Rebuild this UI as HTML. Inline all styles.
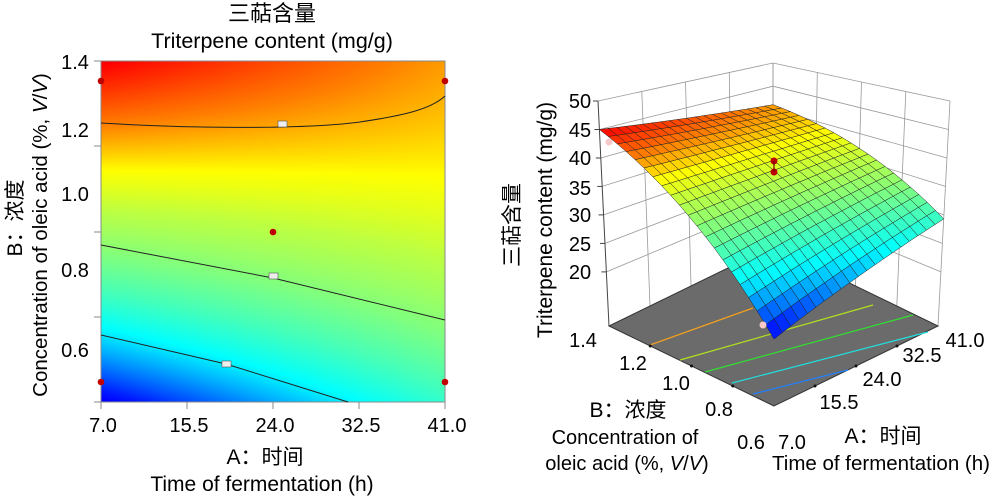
<!DOCTYPE html>
<html><head><meta charset="utf-8"><style>
html,body{margin:0;padding:0;background:#fff;}
#wrap{position:relative;width:1000px;height:497px;overflow:hidden;font-family:"Liberation Sans","Noto Sans CJK SC",sans-serif;}
canvas{position:absolute;left:101px;top:61px;}
svg{position:absolute;left:0;top:0;}
</style></head><body><div id="wrap">
<canvas id="cv" width="344" height="341"></canvas>
<svg id="sv" width="1000" height="497" xmlns="http://www.w3.org/2000/svg" font-family="Liberation Sans, Noto Sans CJK SC, sans-serif"></svg>
</div>
<script>
function clamp(v){return Math.max(0,Math.min(1,v));}
function jet(t){t=clamp(t);return [clamp(1.5-Math.abs(4*t-3)),clamp(1.5-Math.abs(4*t-2)),clamp(1.5-Math.abs(4*t-1))].map(v=>Math.round(v*255));}
var MP=[[15,0.1],[20.4,0.12],[21.4,0.15],[25.1,0.3],[27.1,0.375],[29.95,0.44],[32.9,0.5],[36.2,0.56],[38.85,0.625],[41.6,0.75],[45,0.88],[50,0.95]];
function tmap(z){if(z<=MP[0][0])return MP[0][1];for(var k=1;k<MP.length;k++){if(z<=MP[k][0]){var A=MP[k-1],B=MP[k];return A[1]+(B[1]-A[1])*(z-A[0])/(B[0]-A[0]);}}return MP[MP.length-1][1];}
function zf(a,b){return 20.4+8.9*a+24.6*b-12.9*a*b+8*b*(1-b);}
var cv=document.getElementById('cv'),ctx=cv.getContext('2d'),img=ctx.createImageData(344,341);
for(var y=0;y<341;y++)for(var x=0;x<344;x++){var a=x/343,b=1-y/340;var c=jet(tmap(zf(a,b)));var i=(y*344+x)*4;img.data[i]=c[0];img.data[i+1]=c[1];img.data[i+2]=c[2];img.data[i+3]=255;}
ctx.putImageData(img,0,0);
var s='';
function L(x1,y1,x2,y2,c,w){s+='<line x1="'+x1+'" y1="'+y1+'" x2="'+x2+'" y2="'+y2+'" stroke="'+c+'" stroke-width="'+(w||1)+'"/>';}
function T(x,y,t,fs,anchor,extra){s+='<text x="'+x+'" y="'+y+'" font-size="'+fs+'" text-anchor="'+(anchor||'middle')+'" '+(extra||'')+'>'+t+'</text>';}
s+='<rect x="101" y="61" width="344" height="341" fill="none" stroke="#888" stroke-width="1"/>';
s+='<path d="M101,123 C180,128 300,130 360,122 C400,116 430,110 445,96" fill="none" stroke="#222" stroke-width="1"/>';
s+='<path d="M101,245 L273,278 L445,320" fill="none" stroke="#222" stroke-width="1"/>';
s+='<path d="M101,335 L226,364 L348,402" fill="none" stroke="#222" stroke-width="1"/>';
[[282,124],[273,276],[226,364]].forEach(p=>{s+='<rect x="'+(p[0]-4)+'" y="'+(p[1]-3)+'" width="9" height="6" fill="#eee" stroke="#555" stroke-width="0.6"/>';});
[[101,81],[445,81],[101,382],[445,382],[273,232]].forEach(p=>{s+='<circle cx="'+p[0]+'" cy="'+p[1]+'" r="3.3" fill="#c00000"/>';});
[61,146,232,317,402].forEach(y=>L(94,y,101,y,'#888'));
[101,187,273,359,445].forEach(x=>L(x,402,x,409,'#888'));
[[62,'1.4'],[130,'1.2'],[194,'1.0'],[270,'0.8'],[350,'0.6']].forEach(p=>T(75,p[0]+7,p[1],20));
[[101,'7.0'],[187,'15.5'],[273,'24.0'],[359,'32.5'],[445,'41.0']].forEach((p)=>T(p[0]+2,432,p[1],20));
T(272,21,'三萜含量',22);T(272,48,'Triterpene content (mg/g)',21.5);
T(265,464,'A：时间',21);T(262,491,'Time of fermentation (h)',21);
T(22,218,'B：浓度',21,'middle','transform="rotate(-90 22 218)"');
T(47,235,'Concentration of oleic acid (%, <tspan font-style="italic">V</tspan>/<tspan font-style="italic">V</tspan>)',20.5,'middle','transform="rotate(-90 47 235)"');
var F={f:[774,406],l:[609,326],r:[938,326],k:[773,246]};
var U={f:[0,267],l:[-11,225],r:[12,225],k:[0,183]};
function bil(o,a,b){return [(1-a)*(1-b)*o.f[0]+a*(1-b)*o.r[0]+(1-a)*b*o.l[0]+a*b*o.k[0],(1-a)*(1-b)*o.f[1]+a*(1-b)*o.r[1]+(1-a)*b*o.l[1]+a*b*o.k[1]];}
function P(a,b,z){var p=bil(F,a,b),u=bil(U,a,b),t=(z-10.5)/39.5;return [p[0]+u[0]*t,p[1]-u[1]*t];}
function LP(p,q,c,w){L(p[0].toFixed(1),p[1].toFixed(1),q[0].toFixed(1),q[1].toFixed(1),c,w);}
var gc='#999';
for(var z=20;z<=50;z+=5){LP(P(0,1,z),P(1,1,z),gc,0.8);LP(P(1,1,z),P(1,0,z),gc,0.8);}
[0.25,0.5,0.75,1].forEach(a=>{LP(P(a,1,10.5),P(a,1,50),gc,0.8);LP(P(1,a,10.5),P(1,a,50),gc,0.8);});
LP(P(0,1,10.5),P(0,1,50),'#444',1);LP(P(1,0,10.5),P(1,0,50),gc,0.8);
for(var z=20;z<=50;z+=5){var p=P(0,1,z);LP([p[0]-5,p[1]],p,'#444',1);}
s+='<polygon points="774,406 609,326 773,246 938,326" fill="#6b6b6b" stroke="#333" stroke-width="1"/>';
L(650,345,753,308,'#f0a020',1.2);L(680,360,873,305,'#b0e020',1.2);L(705,372,913,315,'#30e030',1.2);L(732,383,928,332,'#20e0e0',1.2);L(753,394,848,370,'#2080ff',1.2);
[0.25,0.5,0.75].forEach(t=>{var p=P(0,t,10.5),q=P(t,0,10.5);s+='<circle cx="'+p[0]+'" cy="'+p[1]+'" r="1.5" fill="#111"/><circle cx="'+q[0]+'" cy="'+q[1]+'" r="1.5" fill="#111"/>';});
var N=20,quads=[];
for(var i=0;i<N;i++)for(var j=0;j<N;j++){quads.push([i,j]);}
quads.sort((A,B)=>(B[0]+B[1])-(A[0]+A[1]));
quads.forEach(q=>{var a0=q[0]/N,a1=(q[0]+1)/N,b0=q[1]/N,b1=(q[1]+1)/N;
var pts=[[a0,b0],[a1,b0],[a1,b1],[a0,b1]].map(v=>P(v[0],v[1],zf(v[0],v[1])));
var zc=zf((a0+a1)/2,(b0+b1)/2);var c=jet(tmap(zc));
s+='<polygon points="'+pts.map(p=>p[0].toFixed(1)+','+p[1].toFixed(1)).join(' ')+'" fill="rgb('+c.join(',')+')" stroke="#222" stroke-width="0.5"/>';});
s+='<circle cx="774" cy="161" r="3.5" fill="#c00000"/><circle cx="774" cy="172" r="3.5" fill="#c00000"/>';L(774,161,774,172,'#600',1.2);
s+='<circle cx="609" cy="142" r="3.5" fill="#f8c8c8"/><circle cx="763" cy="325" r="3.5" fill="#f8c8c8"/>';
[[50,101],[45,130],[40,158],[35,188],[30,215],[25,244],[20,272]].forEach(p=>T(580,p[1]+7,p[0],20));
T(519,225,'三萜含量',21,'middle','transform="rotate(-90 519 225)"');
T(552,220,'Triterpene content (mg/g)',21,'middle','transform="rotate(-90 552 220)"');
[[583,340,'1.4'],[633,363,'1.2'],[676,383,'1.0'],[719,409,'0.8'],[751,442,'0.6']].forEach(p=>T(p[0],p[1]+7,p[2],20));
[[792,442,'7.0'],[839,402,'15.5'],[882,379,'24.0'],[922,355,'32.5'],[965,340,'41.0']].forEach(p=>T(p[0],p[1]+7,p[2],20));
T(628,417,'B：浓度',21);T(625,444,'Concentration of',20);
T(627,470,'oleic acid (%, <tspan font-style="italic">V</tspan>/<tspan font-style="italic">V</tspan>)',20);
T(883,443,'A：时间',21);T(881,470,'Time of fermentation (h)',20.5);
document.getElementById('sv').innerHTML=s;
</script>
</body></html>
